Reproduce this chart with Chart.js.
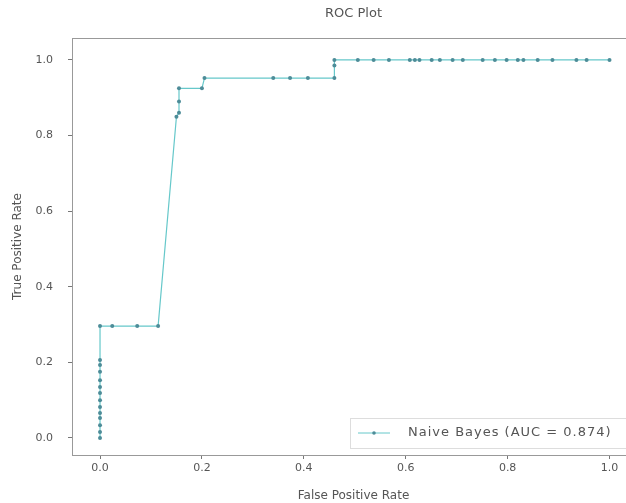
<!DOCTYPE html>
<html>
<head>
<meta charset="utf-8">
<script src="https://cdn.jsdelivr.net/npm/chart.js@4.4.1/dist/chart.umd.min.js"></script>
<style>
  html, body { margin: 0; padding: 0; background: #fff; overflow: hidden; }
  #wrap { width: 640px; height: 503px; }
</style>
</head>
<body>
<div id="wrap"><canvas id="roc-chart"></canvas></div>
<script>
const chartTitle = 'ROC Plot';
const xLabel = 'False Positive Rate';
const yLabel = 'True Positive Rate';
const seriesLabel = 'Naive Bayes (AUC = 0.874)';

// false positive rate / true positive rate
const fpr = [0, 0, 0, 0, 0, 0, 0, 0, 0, 0, 0, 0, 0, 0,
  0.024, 0.073, 0.114,
  0.15, 0.155, 0.155, 0.155, 0.2, 0.205,
  0.34, 0.373, 0.408, 0.46, 0.46, 0.46,
  0.506, 0.537, 0.567, 0.608, 0.618, 0.627, 0.651, 0.667, 0.692, 0.712,
  0.751, 0.775, 0.798, 0.82, 0.831, 0.859, 0.888, 0.935, 0.955, 1.0];
const tpr = [0, 0.016, 0.034, 0.053, 0.066, 0.082, 0.1, 0.119, 0.135, 0.153, 0.175, 0.193, 0.206, 0.296,
  0.296, 0.296, 0.296,
  0.85, 0.86, 0.89, 0.925, 0.925, 0.952,
  0.952, 0.952, 0.952, 0.952, 0.985, 1.0,
  1, 1, 1, 1, 1, 1, 1, 1, 1, 1,
  1, 1, 1, 1, 1, 1, 1, 1, 1, 1];
const xTicks = [0, 0.2, 0.4, 0.6, 0.8, 1.0];
const yTicks = [0, 0.2, 0.4, 0.6, 0.8, 1.0];

const lineColor = '#66c8ca';
const pointColor = '#4d8c98';
const textColor = '#555';

const points = fpr.map((x, i) => ({ x: x, y: tpr[i] }));

const frameAndText = {
  id: 'frameAndText',
  afterDraw(chart) {
    const { ctx, chartArea: a } = chart;
    ctx.save();
    ctx.strokeStyle = '#999';
    ctx.lineWidth = 1;
    ctx.strokeRect(a.left + 0.5, a.top + 0.5, a.right - a.left, a.bottom - a.top);

    ctx.fillStyle = textColor;
    ctx.font = '13px "DejaVu Sans"';
    ctx.textAlign = 'center';
    ctx.textBaseline = 'middle';
    ctx.fillText(chartTitle, (a.left + a.right) / 2, 14);

    // legend box, lower right inside the axes
    const bx = 350, by = 418, bw = 280, bh = 30;
    ctx.fillStyle = 'rgba(255,255,255,0.8)';
    ctx.fillRect(bx, by, bw, bh);
    ctx.strokeStyle = '#ddd';
    ctx.strokeRect(bx + 0.5, by + 0.5, bw, bh);
    const ly = by + bh / 2;
    ctx.strokeStyle = lineColor;
    ctx.beginPath();
    ctx.moveTo(358, ly);
    ctx.lineTo(390, ly);
    ctx.stroke();
    ctx.fillStyle = pointColor;
    ctx.beginPath();
    ctx.arc(374, ly, 1.8, 0, Math.PI * 2);
    ctx.fill();
    ctx.fillStyle = textColor;
    ctx.font = '13px "DejaVu Sans"';
    ctx.letterSpacing = '1px';
    ctx.textAlign = 'left';
    ctx.fillText(seriesLabel, 408, ly);
    ctx.restore();
  }
};

new Chart(document.getElementById('roc-chart'), {
  type: 'line',
  data: {
    datasets: [{
      label: seriesLabel,
      data: points,
      borderColor: lineColor,
      borderWidth: 1.2,
      pointRadius: 2,
      pointBackgroundColor: pointColor,
      pointBorderColor: pointColor,
      pointBorderWidth: 0,
      tension: 0
    }]
  },
  options: {
    responsive: true,
    maintainAspectRatio: false,
    animation: false,
    layout: { padding: { top: 38, right: 5, left: 0, bottom: 0 } },
    plugins: {
      legend: { display: false },
      tooltip: { enabled: false }
    },
    scales: {
      x: {
        type: 'linear',
        min: -0.055,
        max: 1.05,
        afterBuildTicks: s => { s.ticks = xTicks.map(v => ({ value: v })); },
        afterFit: s => { s.height = 48; },
        grid: { drawOnChartArea: false, tickLength: 4, color: '#777' },
        border: { display: false },
        ticks: {
          color: textColor,
          font: { family: 'DejaVu Sans', size: 11 },
          padding: 3,
          maxRotation: 0,
          callback: v => v.toFixed(1)
        },
        title: {
          display: true,
          text: xLabel,
          color: textColor,
          font: { family: 'DejaVu Sans', size: 12 },
          padding: { top: 2, bottom: 0 }
        }
      },
      y: {
        type: 'linear',
        min: -0.045,
        max: 1.058,
        afterBuildTicks: s => { s.ticks = yTicks.map(v => ({ value: v })); },
        afterFit: s => { s.width = 72; },
        grid: { drawOnChartArea: false, tickLength: 4, color: '#777' },
        border: { display: false },
        ticks: {
          color: textColor,
          font: { family: 'DejaVu Sans', size: 11 },
          padding: 15,
          callback: v => v.toFixed(1)
        },
        title: {
          display: true,
          text: yLabel,
          color: textColor,
          font: { family: 'DejaVu Sans', size: 12 },
          padding: { top: 11, bottom: 0 }
        }
      }
    }
  },
  plugins: [frameAndText]
});
</script>
</body>
</html>
